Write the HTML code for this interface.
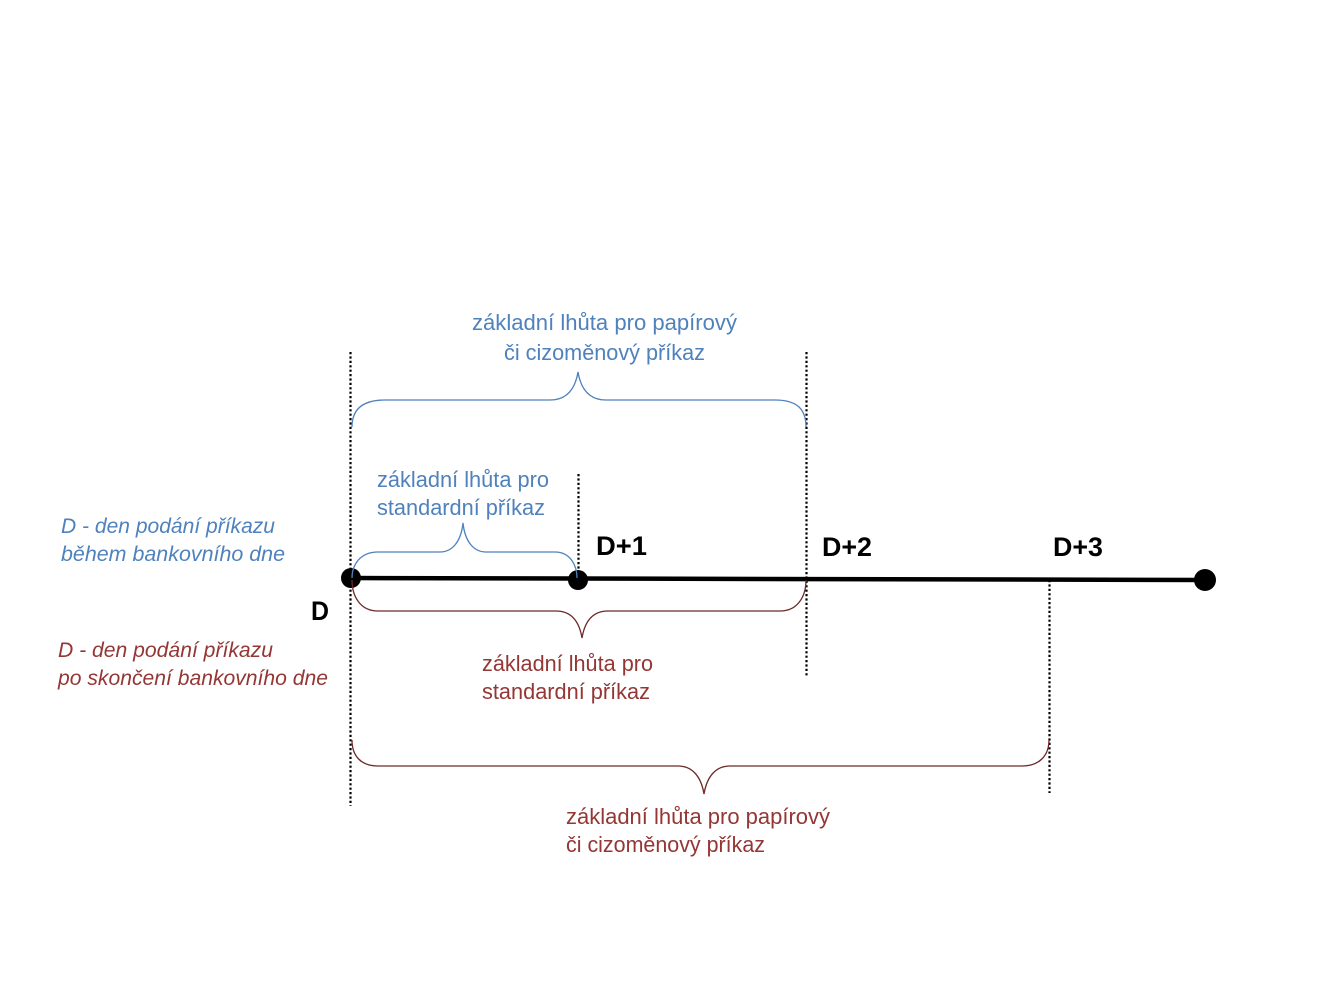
<!DOCTYPE html>
<html>
<head>
<meta charset="utf-8">
<style>
html,body{margin:0;padding:0;background:#fff;}
svg{display:block;}
text{font-family:"Liberation Sans", "DejaVu Sans", sans-serif;}
</style>
</head>
<body>
<svg width="1344" height="1008" viewBox="0 0 1344 1008" xmlns="http://www.w3.org/2000/svg">
  <rect width="1344" height="1008" fill="#fff"/>

  <!-- dotted vertical lines -->
  <g stroke="#000" stroke-width="2.2" stroke-dasharray="2.2 2.2" fill="none">
    <line x1="350.5" y1="352" x2="350.5" y2="806"/>
    <line x1="578.5" y1="474" x2="578.5" y2="580"/>
    <line x1="806.5" y1="352" x2="806.5" y2="677"/>
    <line x1="1049.5" y1="580" x2="1049.5" y2="793"/>
  </g>

  <!-- main timeline -->
  <line x1="350" y1="578" x2="1205" y2="580" stroke="#000" stroke-width="4.5"/>
  <circle cx="351" cy="578" r="10" fill="#000"/>
  <circle cx="578" cy="580" r="10" fill="#000"/>
  <circle cx="1205" cy="580" r="11" fill="#000"/>

  <!-- blue braces -->
  <g fill="none" stroke="#4f81bd" stroke-width="1.3">
    <path d="M352,427 C352,410 362,400 385,400 L550,400 C566,400 575,390 578,372 C581,390 590,400 606,400 L775,400 C798,400 806,410 806,427"/>
    <path d="M352,578 C352,565 360,552 378,552 L440,552 C452,552 461,542 463,523 C465,542 474,552 486,552 L555,552 C570,552 577,565 577,578"/>
  </g>

  <!-- red braces -->
  <g fill="none" stroke="#6b2a28" stroke-width="1.3">
    <path d="M352,580 C352,596 360,611 378,611 L556,611 C570,611 579,620 582,638 C585,620 594,611 608,611 L780,611 C798,611 806,596 806,580"/>
    <path d="M352,740 C352,755 360,766 378,766 L678,766 C692,766 701,776 704,794 C707,776 716,766 730,766 L1022,766 C1040,766 1049,755 1049,740"/>
  </g>

  <!-- bold day labels -->
  <g font-weight="bold" font-size="27" fill="#000">
    <text x="311" y="620" textLength="18" lengthAdjust="spacingAndGlyphs">D</text>
    <text x="596" y="555" textLength="51" lengthAdjust="spacingAndGlyphs">D+1</text>
    <text x="822" y="556" textLength="50" lengthAdjust="spacingAndGlyphs">D+2</text>
    <text x="1053" y="556" textLength="50" lengthAdjust="spacingAndGlyphs">D+3</text>
  </g>

  <!-- blue labels -->
  <g fill="#4f81bd" font-size="22">
    <text x="472" y="330" textLength="265" lengthAdjust="spacingAndGlyphs">základní lhůta pro papírový</text>
    <text x="504" y="360" textLength="201" lengthAdjust="spacingAndGlyphs">či cizoměnový příkaz</text>
    <text x="377" y="487" textLength="172" lengthAdjust="spacingAndGlyphs">základní lhůta pro</text>
    <text x="377" y="515" textLength="168" lengthAdjust="spacingAndGlyphs">standardní příkaz</text>
  </g>
  <g fill="#4f81bd" font-size="21" font-style="italic">
    <text x="61" y="533" textLength="214" lengthAdjust="spacingAndGlyphs">D - den podání příkazu</text>
    <text x="61" y="561" textLength="224" lengthAdjust="spacingAndGlyphs">během bankovního dne</text>
  </g>

  <!-- red labels -->
  <g fill="#943634" font-size="22">
    <text x="482" y="671" textLength="171" lengthAdjust="spacingAndGlyphs">základní lhůta pro</text>
    <text x="482" y="699" textLength="168" lengthAdjust="spacingAndGlyphs">standardní příkaz</text>
    <text x="566" y="824" textLength="264" lengthAdjust="spacingAndGlyphs">základní lhůta pro papírový</text>
    <text x="566" y="852" textLength="199" lengthAdjust="spacingAndGlyphs">či cizoměnový příkaz</text>
  </g>
  <g fill="#943634" font-size="21" font-style="italic">
    <text x="58" y="657" textLength="215" lengthAdjust="spacingAndGlyphs">D - den podání příkazu</text>
    <text x="58" y="685" textLength="270" lengthAdjust="spacingAndGlyphs">po skončení bankovního dne</text>
  </g>
</svg>
</body>
</html>
